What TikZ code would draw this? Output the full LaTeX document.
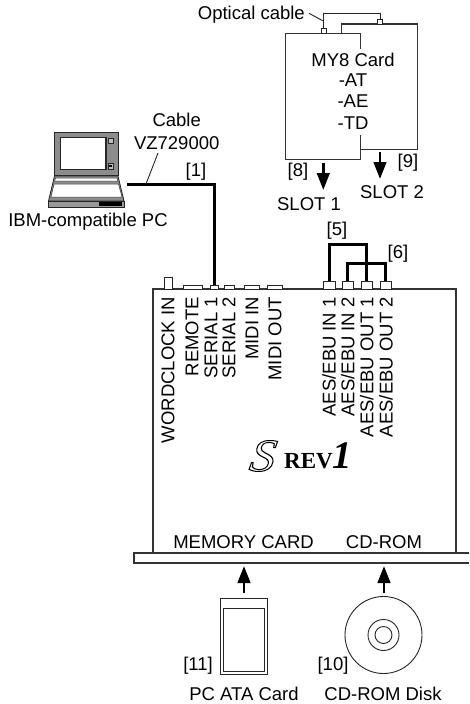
\documentclass[tikz,border=0pt]{standalone}
\usepackage{fontspec}
\setmainfont{Liberation Sans}
\newfontfamily\logofont{Liberation Serif}
\usetikzlibrary{arrows.meta}
\tikzset{
  every node/.style={font=\fontsize{18.5}{18.5}\selectfont,inner sep=0pt,text=black},
  thinline/.style={draw=black!85,line width=0.9pt},
  boxline/.style={draw=black!80,line width=1.2pt},
  cable/.style={draw=black,line width=3pt},
  port/.style={draw=black!85,fill=white,line width=0.9pt},
  flow/.style={draw=black,line width=2.8pt,-{Triangle[length=17pt,width=12.5pt]}},
  pcline/.style={draw=black!85,line width=0.8pt},
  vlabel/.style={rotate=90,anchor=east}
}
\begin{document}
\begin{tikzpicture}[x=1pt,y=-1pt]
\useasboundingbox (0,0) rectangle (469,704);
% main unit
\draw[boxline] (153,553) -- (153,289) -- (456,289) -- (456,553);
\draw[boxline,fill=white] (469,553) -- (134,553) -- (134,563) -- (469,563);
% rear ports
\draw[port] (164.5,277) rectangle (172.5,289);
\draw[port] (183,285) rectangle (202,289);
\draw[port] (210,285) rectangle (218,289);
\draw[port] (224,285) rectangle (234,289);
\draw[port] (244,285) rectangle (259,289);
\draw[port] (267,285) rectangle (282,289);
\coordinate (ser) at (214,285);
\coordinate (a1) at (329,281);
\coordinate (a2) at (347.7,281);
\coordinate (a3) at (366.7,281);
\coordinate (a4) at (385.7,281);
\draw[cable,line join=miter] (a1) |- (366.7,244) -- (a3);
\draw[cable,line join=miter] (a2) |- (385.7,263) -- (a4);
\draw[port] (323,281) rectangle (335,289);
\draw[port] (342,281) rectangle (353,289);
\draw[port] (361,281) rectangle (372,289);
\draw[port] (380,281) rectangle (391,289);
\node[vlabel] (wc) at (168,297) {WORDCLOCK IN};
\node[vlabel] (rem) at (192,297) {REMOTE};
\node[vlabel] (s1) at (211,297) {SERIAL 1};
\node[vlabel] (s2) at (229,297) {SERIAL 2};
\node[vlabel] (mi) at (252,297) {MIDI IN};
\node[vlabel] (mo) at (275,297) {MIDI OUT};
\node[vlabel] (e1) at (329,297) {AES/EBU IN 1};
\node[vlabel] (e2) at (347.7,297) {AES/EBU IN 2};
\node[vlabel] (e3) at (366.7,297) {AES/EBU OUT 1};
\node[vlabel] (e4) at (386,297) {AES/EBU OUT 2};
\node (l5) at (337,231) {[5]};
\node (l6) at (398,254) {[6]};
\node (mem) at (243.5,542) {MEMORY CARD};
\node (cdr) at (384,542) {CD-ROM};
% logo
\node[anchor=base west,font=\logofont\fontsize{46}{46}\selectfont\itshape,xscale=1.1,xslant=0.15] (logoS) at (248,471) {\special{pdf:code 1 Tr 1.0 w}S\special{pdf:code 0 Tr}};
\node[anchor=base west,font=\logofont\fontsize{23}{23}\selectfont\bfseries] (logoR) at (284,468) {REV};
\node[anchor=base west,font=\logofont\fontsize{39}{39}\selectfont\bfseries\itshape] (logo1) at (332,468) {1};
% PC
\draw[pcline,fill=black!45] (54,132) rectangle (118,175);
\draw[draw=black!85,fill=white,line width=1.4pt] (60.5,137.5) rectangle (106,169.5);
\draw[pcline,fill=black!25] (108,138) rectangle (113.5,143);
\draw[pcline,fill=black!25] (108,163) rectangle (113.5,169);
\node[fill=black,minimum size=2.5pt] (pcdot) at (110.7,166) {};
\draw[pcline,fill=black!45] (54.5,176) -- (118,176) -- (124,201) -- (48.5,201) -- cycle;
\draw[draw=black!80,fill=white,line width=0.5pt] (55.5,178) -- (117,178) -- (117.8,181) -- (54.7,181) -- cycle;
\draw[draw=black!80,fill=white,line width=0.5pt] (54,184) -- (118.5,184) -- (122,197) -- (51,197) -- cycle;
\draw[pcline,fill=black!40] (48.5,201) rectangle (124,207);
\fill[black] (98.7,202) rectangle (122,206);
\node (pc) at (88,222) {IBM-compatible PC};
\coordinate (pcout) at (127,184);
\draw[cable,line join=miter] (pcout) -| (ser);
\draw[thinline] (158,153) -- (146,184);
\node[align=center] (cab) at (176.7,131.5) {Cable\\[4pt]VZ729000};
\node (l1) at (196,172) {[1]};
% MY8 cards
\draw[boxline] (341.7,33.3) -- (341.7,24) -- (417.7,24) -- (417.7,149.7) -- (360.7,149.7);
\draw[boxline] (360.7,49) -- (360.7,33.3) -- (285.7,33.3) -- (285.7,159.3) -- (360.7,159.3) -- (360.7,135);
\draw[port] (321,28.3) rectangle (326.3,33.3);
\draw[port] (377.3,19.3) rectangle (382.7,24);
\draw[thinline] (323.7,28.3) |- (380,13.7) -- (380,19.3);
\draw[thinline] (309,13.3) -- (322.7,20.7);
\node[anchor=east] (opt) at (305,15) {Optical cable};
\node (my) at (353,60) {MY8 Card};
\node (at) at (353,80.5) {-AT};
\node (ae) at (353,101.5) {-AE};
\node (td) at (353,123) {-TD};
\coordinate (s1a) at (323.3,162.7);
\coordinate (s1b) at (323.3,190);
\coordinate (s2a) at (380,152);
\coordinate (s2b) at (380,179);
\draw[flow] (s1a) -- (s1b);
\draw[flow] (s2a) -- (s2b);
\node (l8) at (298,172) {[8]};
\node (l9) at (408,163) {[9]};
\node (sl1) at (309,204) {SLOT 1};
\node (sl2) at (392,192) {SLOT 2};
% media
\coordinate (m1a) at (244,593);
\coordinate (m1b) at (244,566);
\coordinate (m2a) at (384,593);
\coordinate (m2b) at (384,566);
\draw[flow] (m1a) -- (m1b);
\draw[flow] (m2a) -- (m2b);
\draw[thinline] (220,598.5) rectangle (267.5,674.5);
\draw[thinline] (223,608) rectangle (264.5,671.5);
\draw[thinline] (383.5,635) circle (38.5);
\draw[thinline] (383.5,635) circle (15.5);
\draw[thinline] (383.5,635) circle (8.5);
\node[fill=white,inner sep=1pt] (l11) at (198,665.5) {[11]};
\node[fill=white,inner sep=1pt] (l10) at (333,665.5) {[10]};
\node (pca) at (244,694) {PC ATA Card};
\node (cdd) at (383,694) {CD-ROM Disk};
\end{tikzpicture}
\end{document}
